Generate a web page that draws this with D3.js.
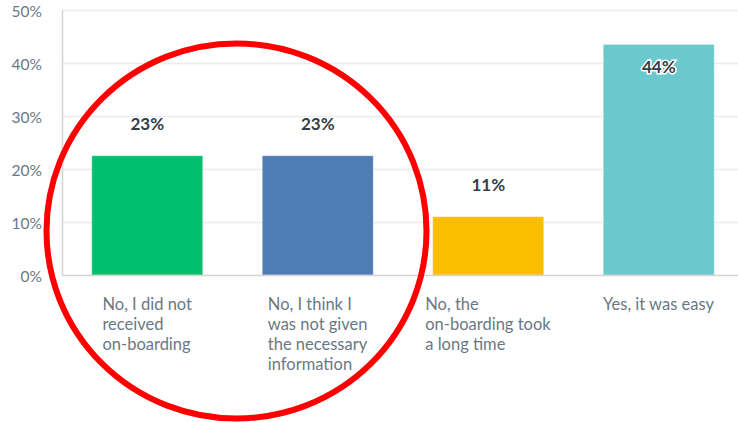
<!DOCTYPE html>
<html>
<head>
<meta charset="utf-8">
<script src="https://cdn.jsdelivr.net/npm/d3@7"></script>
<style>
	body { margin: 0; background: #fff; }
	svg { display: block; }
</style>
</head>
<body>
<script>
const width = 738;
const height = 422;

// chart data
const categories = [
	'No, I did not received on-boarding',
	'No, I think I was not given the necessary information',
	'No, the on-boarding took a long time',
	'Yes, it was easy'
];
const categoryLines = [
	['No, I did not', 'received', 'on-boarding'],
	['No, I think I', 'was not given', 'the necessary', 'information'],
	['No, the', 'on-boarding took', 'a long time'],
	['Yes, it was easy']
];
const values = [22.5, 22.5, 11.0, 43.5];
const valueLabels = ['23%', '23%', '11%', '44%'];
const yTicks = [0, 10, 20, 30, 40, 50];

const BAR_COLORS = ['#00bf6f', '#507cb6', '#f9be00', '#6bc8cd'];
const GRID_COLOR = '#ececec';
const AXIS_COLOR = '#d4d4d4';
const TICK_TEXT = '#6a7885';
const VALUE_TEXT = '#333e48';
const FONT = 'Lato, "Open Sans", sans-serif';

// plot runs a little past the right edge of the window
const margin = { top: 10, right: -6, bottom: 147, left: 62 };

const svg = d3.select('body')
	.append('svg')
	.attr('width', width)
	.attr('height', height);

const x = d3.scaleBand()
	.domain(categories)
	.range([margin.left, width - margin.right])
	.paddingInner(0.349)
	.paddingOuter(0.1745);

const y = d3.scaleLinear()
	.domain([0, 50])
	.range([height - margin.bottom, margin.top]);

// gridlines
svg.append('g')
	.selectAll('line')
	.data(yTicks.filter(d => d > 0))
	.enter()
	.append('line')
	.attr('x1', margin.left)
	.attr('x2', width)
	.attr('y1', d => y(d) + 0.5)
	.attr('y2', d => y(d) + 0.5)
	.attr('stroke', GRID_COLOR)
	.attr('stroke-width', 1.5);

// y axis
const yAxis = svg.append('g')
	.attr('transform', `translate(${margin.left},0)`)
	.call(d3.axisLeft(y).tickValues(yTicks).tickSize(0).tickPadding(20).tickFormat(d => d + '%'));
yAxis.select('.domain').attr('stroke', AXIS_COLOR).attr('stroke-width', 1.5);
yAxis.selectAll('text')
	.attr('fill', TICK_TEXT)
	.attr('font-family', FONT)
	.attr('font-size', 15.5)
	.attr('dy', '0.45em');

// bars
svg.append('g')
	.selectAll('rect')
	.data(values)
	.enter()
	.append('rect')
	.attr('x', (d, i) => x(categories[i]))
	.attr('y', d => y(d))
	.attr('width', x.bandwidth())
	.attr('height', d => y(0) - y(d))
	.attr('fill', (d, i) => BAR_COLORS[i])
	.attr('stroke', 'rgba(255,255,255,0.35)')
	.attr('stroke-width', 1);

// baseline
svg.append('line')
	.attr('x1', margin.left)
	.attr('x2', width)
	.attr('y1', y(0) + 0.5)
	.attr('y2', y(0) + 0.5)
	.attr('stroke', AXIS_COLOR)
	.attr('stroke-width', 1.5);

// value labels (inside the bar when there is no room above)
const inside = d => y(d) - 32 < y(48);
svg.append('g')
	.selectAll('text')
	.data(values)
	.enter()
	.append('text')
	.attr('x', (d, i) => x(categories[i]) + x.bandwidth() / 2)
	.attr('y', d => inside(d) ? y(d) + 23 : y(d) - 32)
	.attr('dy', '0.35em')
	.attr('text-anchor', 'middle')
	.attr('font-family', FONT)
	.attr('font-size', 17)
	.attr('font-weight', 'bold')
	.attr('fill', VALUE_TEXT)
	.attr('stroke', d => inside(d) ? '#fff' : 'none')
	.attr('stroke-width', 3)
	.attr('paint-order', 'stroke')
	.text((d, i) => valueLabels[i]);

// category labels, left aligned block centred under each bar
categoryLines.forEach((lines, i) => {
	const g = svg.append('g');
	lines.forEach((line, j) => {
		g.append('text')
			.attr('x', 0)
			.attr('y', y(0) + 35 + j * 20)
			.attr('font-family', FONT)
			.attr('font-size', 16.5)
			.attr('fill', TICK_TEXT)
			.text(line);
	});
	const w = g.node().getBBox().width;
	g.attr('transform', `translate(${x(categories[i]) + x.bandwidth() / 2 - w / 2},0)`);
});

// red annotation circle around the two first bars
const cx = (x(categories[0]) + x(categories[1]) + x.bandwidth()) / 2 + 4;
svg.append('ellipse')
	.attr('cx', cx)
	.attr('cy', 231)
	.attr('rx', 190)
	.attr('ry', 187.5)
	.attr('fill', 'none')
	.attr('stroke', '#ff0000')
	.attr('stroke-width', 6);
</script>
</body>
</html>
